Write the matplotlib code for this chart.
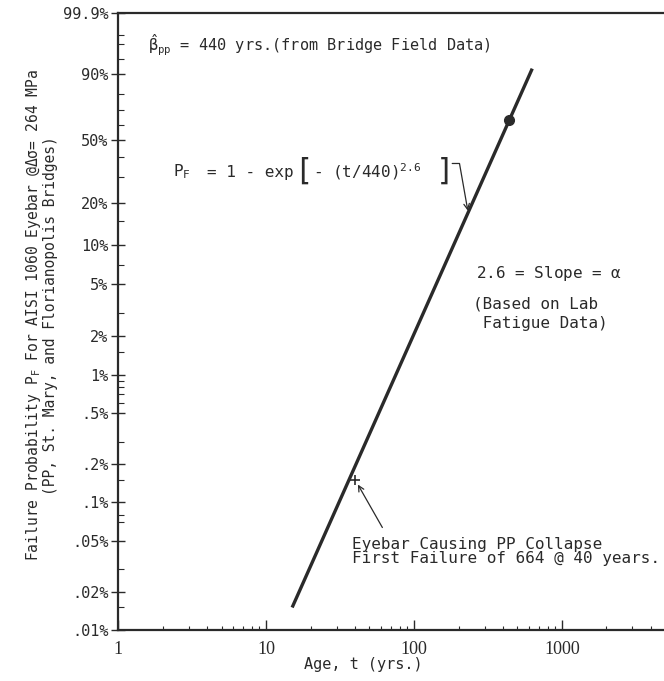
import numpy as np
from matplotlib import pyplot as plt
from matplotlib.ticker import FixedLocator, FixedFormatter, LogLocator, NullFormatter

# Weibull line
line_years = [15, 630]
line_pf = [0.00015, 0.92]

# Points on the line
beta_years = 440
beta_pf = 0.632
first_fail_years = 40
first_fail_pf = 1 / 664.0

# Y axis (probability) ticks
y_major = [0.999, 0.90, 0.50, 0.20, 0.10, 0.05, 0.02, 0.01, 0.005, 0.002,
           0.001, 0.0005, 0.0002, 0.0001]
y_labels = ['99.9%', '90%', '50%', '20%', '10%', '5%', '2%', '1%', '.5%',
            '.2%', '.1%', '.05%', '.02%', '.01%']
y_minor = [0.99, 0.98, 0.95, 0.80, 0.70, 0.60, 0.40, 0.30, 0.15, 0.07,
           0.03, 0.015, 0.009, 0.008, 0.007, 0.006, 0.003, 0.0015, 0.0008,
           0.0007, 0.0003, 0.00015]

x_major = [1, 10, 100, 1000]
x_labels = ['1', '10', '100', '1000']


def weibull_fwd(p):
	p = np.clip(np.asarray(p, dtype=float), 1e-12, 1 - 1e-12)
	return np.log(-np.log(1 - p))


def weibull_inv(w):
	return 1 - np.exp(-np.exp(w))


MONO = 'DejaVu Sans Mono'
INK = '#2a2a2a'
plt.rcParams['mathtext.fontset'] = 'custom'
plt.rcParams['mathtext.rm'] = MONO
plt.rcParams['mathtext.it'] = MONO
plt.rcParams['mathtext.bf'] = MONO

fig = plt.figure(figsize=(6.64, 6.81), dpi=100)
ax = fig.add_axes([0.178, 0.075, 0.822, 0.906])

ax.set_xscale('log')
ax.set_yscale('function', functions=(weibull_fwd, weibull_inv))
ax.set_xlim(1, 4900)
ax.set_ylim(0.0001, 0.999)

# Main line and marks
ax.plot(line_years, line_pf, color=INK, lw=2.4, solid_capstyle='butt')
ax.plot([beta_years], [beta_pf], 'o', color=INK, ms=7)
ax.plot([first_fail_years], [first_fail_pf], '+', color=INK, ms=7, mew=1.2)

# Ticks
ax.yaxis.set_major_locator(FixedLocator(y_major))
ax.yaxis.set_major_formatter(FixedFormatter(y_labels))
ax.yaxis.set_minor_locator(FixedLocator(y_minor))
ax.yaxis.set_minor_formatter(NullFormatter())
ax.xaxis.set_major_locator(FixedLocator(x_major))
ax.xaxis.set_major_formatter(FixedFormatter(x_labels))
ax.xaxis.set_minor_locator(LogLocator(base=10, subs=np.arange(2, 10)))
ax.xaxis.set_minor_formatter(NullFormatter())

ax.tick_params(axis='y', which='major', direction='inout', length=10, width=1,
	colors=INK, labelsize=11, pad=2)
ax.tick_params(axis='y', which='minor', direction='in', length=4, width=0.8, colors=INK)
ax.tick_params(axis='x', which='major', direction='in', length=7, width=1,
	colors=INK, labelsize=13, pad=8)
ax.tick_params(axis='x', which='minor', direction='in', length=3, width=0.8, colors=INK)
for lab in ax.get_yticklabels():
	lab.set_family(MONO)
for lab in ax.get_xticklabels():
	lab.set_family('Liberation Serif')

for side in ['left', 'bottom', 'top']:
	ax.spines[side].set_linewidth(1.6)
	ax.spines[side].set_color(INK)
ax.spines['right'].set_linewidth(0.6)
ax.spines['right'].set_color('#cccccc')

# Axis labels
ax.set_xlabel('Age, t (yrs.)', family=MONO, fontsize=11, color=INK)
ax.xaxis.set_label_coords(0.449, -0.044)
ax.set_ylabel('Failure Probability P$_\\mathrm{F}$ For AISI 1060 Eyebar @$\\Delta\\sigma$= 264 MPa\n'
	'(PP, St. Mary, and Florianopolis Bridges)', family=MONO, fontsize=10.5,
	color=INK, linespacing=1.05)
ax.yaxis.set_label_coords(-0.11, 0.51)

# Annotations
ax.text(0.055, 0.948, '$\\hat{\\beta}_\\mathrm{pp}$ = 440 yrs.(from Bridge Field Data)',
	transform=ax.transAxes, family=MONO, fontsize=11, color=INK, va='center')

# P_F formula, set in pieces like the typewritten original
fs = 11.5
ax.text(0.100, 0.742, 'P$_\\mathrm{F}$', transform=ax.transAxes,
	family=MONO, fontsize=fs, color=INK, va='center')
ax.text(0.163, 0.742, '= 1 - exp', transform=ax.transAxes,
	family=MONO, fontsize=fs, color=INK, va='center')
ax.text(0.322, 0.744, '[', transform=ax.transAxes,
	family=MONO, fontsize=22, color=INK, va='center')
ax.text(0.357, 0.742, '- (t/440)$^\\mathrm{2.6}$', transform=ax.transAxes,
	family=MONO, fontsize=fs, color=INK, va='center')
ax.text(0.582, 0.744, ']', transform=ax.transAxes,
	family=MONO, fontsize=22, color=INK, va='center')
arrow_t = 232
arrow_pf = weibull_inv(2.6 * np.log(arrow_t / 440.0))
ax.annotate('', xy=(arrow_t, arrow_pf), xytext=(0.612, 0.756), textcoords='axes fraction',
	arrowprops=dict(arrowstyle='->', color=INK, lw=0.9, shrinkA=0, shrinkB=1,
		connectionstyle='angle,angleA=0,angleB=100,rad=0'))

ax.text(0.656, 0.578, '2.6 = Slope = $\\alpha$', transform=ax.transAxes,
	family=MONO, fontsize=fs, color=INK, va='center')
ax.text(0.650, 0.528, '(Based on Lab', transform=ax.transAxes,
	family=MONO, fontsize=fs, color=INK, va='center')
ax.text(0.650, 0.496, ' Fatigue Data)', transform=ax.transAxes,
	family=MONO, fontsize=fs, color=INK, va='center')

ax.text(0.429, 0.139, 'Eyebar Causing PP Collapse', transform=ax.transAxes,
	family=MONO, fontsize=fs, color=INK, va='center')
ax.text(0.429, 0.116, 'First Failure of 664 @ 40 years.', transform=ax.transAxes,
	family=MONO, fontsize=fs, color=INK, va='center')
ax.annotate('', xy=(first_fail_years, first_fail_pf), xytext=(0.484, 0.166),
	textcoords='axes fraction',
	arrowprops=dict(arrowstyle='->', color=INK, lw=0.9, shrinkA=0, shrinkB=4))

plt.savefig('out.png', dpi=100)
